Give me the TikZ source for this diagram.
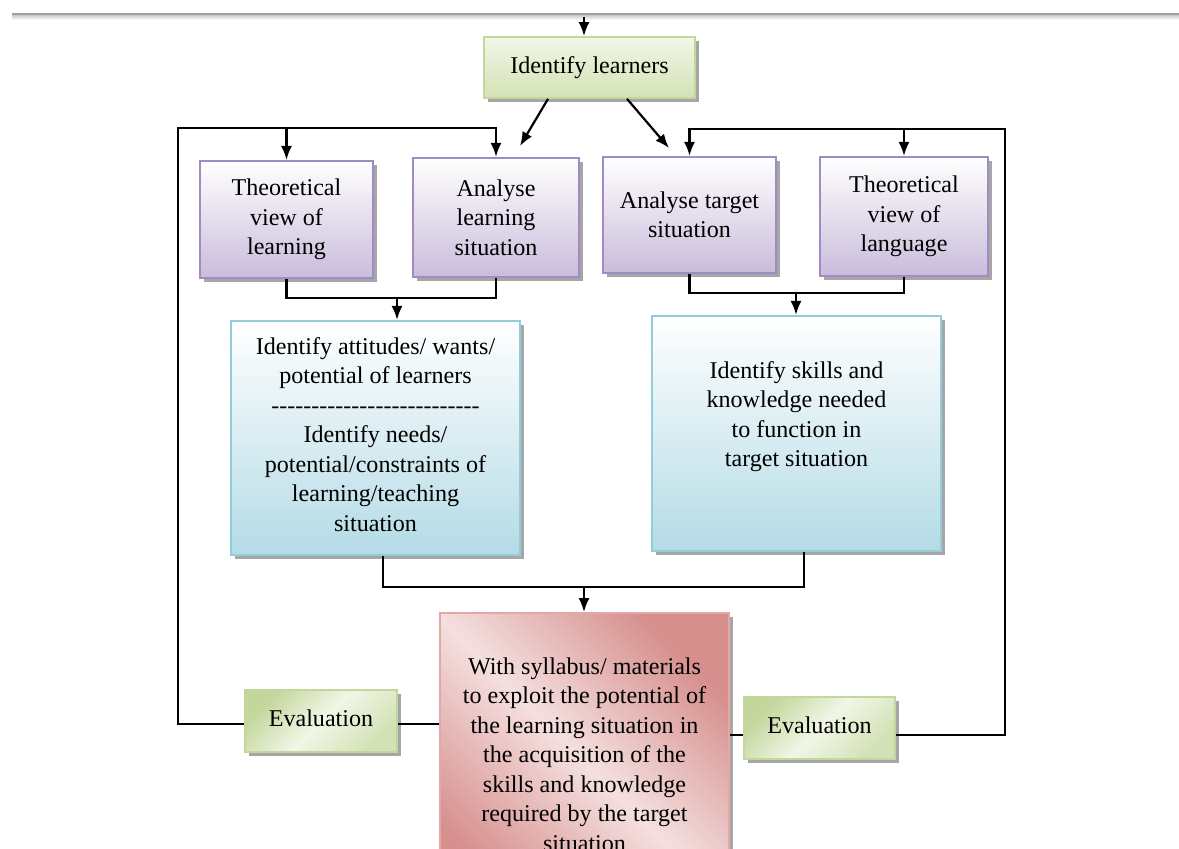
\documentclass[tikz,border=0pt]{standalone}
\usepackage{fontspec}
\setmainfont{Liberation Serif}
\usetikzlibrary{arrows.meta,shadows,calc}
\definecolor{purpB}{HTML}{A08CC3}
\definecolor{purpF}{HTML}{C9BCDB}
\definecolor{blueB}{HTML}{92CDDC}
\definecolor{blueF}{HTML}{B4DBE6}
\definecolor{greenB}{HTML}{C3D69B}
\definecolor{greenD}{HTML}{D3E2B6}
\definecolor{greenL}{HTML}{F1F6E6}
\definecolor{redB}{HTML}{E0A8A7}
\definecolor{redD}{HTML}{D68F8D}
\definecolor{redL}{HTML}{F4E0DF}
\newcommand\hk{-\kern0pt}
\begin{document}
\begin{tikzpicture}[x=0.02cm,y=-0.02cm,
  every node/.style={font=\fontsize{13.7}{16.8}\selectfont, align=center, inner sep=2pt},
  sz/.style 2 args={minimum width=#1*0.02cm, minimum height=#2*0.02cm},
  shad/.style={drop shadow={shadow xshift=2pt,shadow yshift=-2.5pt,fill=black!35,opacity=1}},
  purplebox/.style={draw=purpB, line width=1.2pt, top color=white, bottom color=purpF, shad},
  bluebox/.style={draw=blueB, line width=1.2pt, top color=white, bottom color=blueF, shad},
  greenbox/.style={draw=greenB, line width=1pt, top color=greenL, bottom color=greenD, shad},
  evalbox/.style={draw=greenB, line width=1pt, left color=greenB, right color=greenD, middle color=greenL, shading angle=45, shad},
  redbox/.style={draw=redB, line width=1pt, left color=redD, right color=redD, middle color=redL, shading angle=-45, shad},
  plain/.style={inner sep=0pt},
  conn/.style={line width=1.25pt, draw=black},
  arr/.style={conn, -{Latex[length=2.8mm,width=2.2mm]}}
]
\useasboundingbox (0,0) rectangle (1179,848);
\clip (0,0) rectangle (1179,848);

% top rule
\fill[top color=gray!50, bottom color=white] (12,14) rectangle (1179,20);
\draw[gray!75, line width=0.9pt] (12,14) -- (1179,14);
\coordinate (topin) at (584,17);

% nodes
\node[greenbox, sz={211}{61}] (learners) at (589.5,67.5) {\raisebox{3pt}{Identify learners}};
\node[purplebox, sz={173}{117}] (tvl) at (286.5,219.5) {Theoretical\\view of\\learning};
\node[purplebox, sz={166}{119}] (als) at (496,217.5) {Analyse\\learning\\situation};
\node[purplebox, sz={173}{116}] (ats) at (689.5,215) {Analyse target\\situation};
\node[purplebox, sz={168}{119}] (tvlang) at (904,216.5) {Theoretical\\view of\\language};
\node[bluebox, sz={289}{234}] (att) at (375.5,438) {};
\node[plain] (atttxt) at (375.5,434.5) {Identify attitudes/ wants/\\potential of learners\\\hk\hk\hk\hk\hk\hk\hk\hk\hk\hk\hk\hk\hk\hk\hk\hk\hk\hk\hk\hk\hk\hk\hk\hk\hk\hk\\Identify needs/\\potential/constraints of\\learning/teaching\\situation};
\node[bluebox, sz={289}{235}] (skills) at (796.5,433.5) {};
\node[plain] (skillstxt) at (796.5,416.5) {Identify skills and\\knowledge needed\\to function in\\target situation};
\node[redbox, sz={289}{300}] (red) at (584.5,763) {};
\node[plain, anchor=north] (redtxt) at (584.5,657) {With syllabus/ materials\\to exploit the potential of\\the learning situation in\\the acquisition of the\\skills and knowledge\\required by the target\\situation};
\node[evalbox, sz={152}{62}] (evalL) at (321,721) {\raisebox{3pt}{Evaluation}};
\node[evalbox, sz={151}{62}] (evalR) at (819.5,728) {\raisebox{3pt}{Evaluation}};

% coordinates
\coordinate (a1) at (520,146);
\coordinate (a2) at (669,148);
\coordinate (loopL) at (178,128);
\coordinate (loopR) at (1005,129);
\coordinate (j1) at (397,298);
\coordinate (j2) at (796,293);
\coordinate (j3) at (584,587);

% connectors
\draw[arr] (topin) -- (topin |- learners.north);
\draw[arr] ($(learners.south)+(-41.5,0)$) -- (a1);
\draw[arr] ($(learners.south)+(37.5,0)$) -- (a2);

\draw[arr] ($(evalL.west)+(0,3)$) -| (loopL) -| (als.north);
\draw[arr] (tvl.north |- loopL) -- (tvl.north);
\draw[arr] ($(evalR.east)+(0,7)$) -| (loopR) -| (ats.north);
\draw[arr] (tvlang.north |- loopR) -- (tvlang.north);

\draw[conn] (tvl.south) |- (j1) -| (als.south);
\draw[arr] (j1) -- (j1 |- att.north);
\draw[conn] (ats.south) |- (j2) -| (tvlang.south);
\draw[arr] (j2) -- (j2 |- skills.north);
\draw[conn] ($(att.south)+(7.5,0)$) |- (j3) -| ($(skills.south)+(7.5,0)$);
\draw[arr] (j3) -- (j3 |- red.north);

\draw[conn] ($(evalL.east)+(0,3)$) -- ($(evalL.east -| red.west)+(0,3)$);
\draw[conn] ($(evalR.west -| red.east)+(0,7)$) -- ($(evalR.west)+(0,7)$);
\end{tikzpicture}
\end{document}
